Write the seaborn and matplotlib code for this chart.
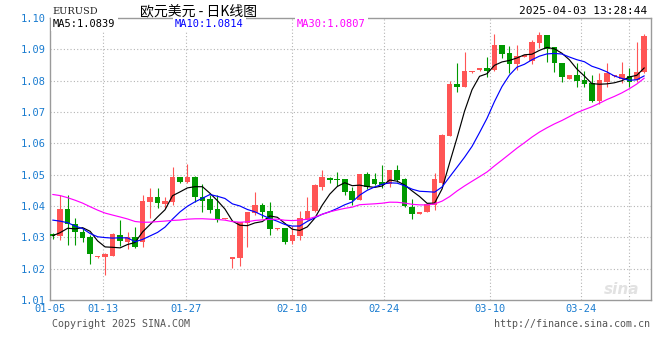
import matplotlib
matplotlib.use("Agg")
import matplotlib.pyplot as plt
import numpy as np
import pandas as pd
import seaborn as sns

# EURUSD daily candles (80 bars)
opens = [1.0311, 1.0305, 1.0391, 1.0343, 1.0317, 1.0301, 1.0236, 1.0238, 1.0241, 1.0308,
         1.0285, 1.0301, 1.0285, 1.0413, 1.0429, 1.0407, 1.0413, 1.0493, 1.0477, 1.0493,
         1.0429, 1.0422, 1.0391, 1.0358, 1.0231, 1.0234, 1.0346, 1.0378, 1.0403, 1.0384,
         1.0326, 1.0330, 1.0289, 1.0305, 1.0356, 1.0384, 1.0461, 1.0490, 1.0486, 1.0486,
         1.0448, 1.0419, 1.0502, 1.0486, 1.0477, 1.0470, 1.0515, 1.0486, 1.0397, 1.0376,
         1.0381, 1.0403, 1.0474, 1.0624, 1.0789, 1.0780, 1.0827, 1.0834, 1.0840, 1.0834,
         1.0914, 1.0888, 1.0853, 1.0876, 1.0863, 1.0920, 1.0946, 1.0907, 1.0856, 1.0805,
         1.0818, 1.0802, 1.0792, 1.0735, 1.0796, 1.0814, 1.0805, 1.0815, 1.0802, 1.0828]
highs = [1.0314, 1.0435, 1.0435, 1.0362, 1.0330, 1.0308, 1.0239, 1.0249, 1.0313, 1.0356,
         1.0317, 1.0333, 1.0435, 1.0458, 1.0458, 1.0429, 1.0525, 1.0494, 1.0534, 1.0496,
         1.0470, 1.0435, 1.0435, 1.0361, 1.0238, 1.0350, 1.0382, 1.0445, 1.0410, 1.0413,
         1.0329, 1.0331, 1.0337, 1.0384, 1.0429, 1.0469, 1.0515, 1.0493, 1.0509, 1.0487,
         1.0461, 1.0503, 1.0509, 1.0505, 1.0531, 1.0516, 1.0531, 1.0489, 1.0423, 1.0379,
         1.0408, 1.0505, 1.0630, 1.0799, 1.0856, 1.0892, 1.0830, 1.0841, 1.0876, 1.0949,
         1.0915, 1.0911, 1.0914, 1.0883, 1.0930, 1.0955, 1.0947, 1.0908, 1.0857, 1.0819,
         1.0856, 1.0831, 1.0818, 1.0824, 1.0856, 1.0817, 1.0860, 1.0840, 1.0923, 1.0949]
lows = [1.0295, 1.0292, 1.0276, 1.0276, 1.0285, 1.0215, 1.0235, 1.0180, 1.0240, 1.0273,
        1.0263, 1.0266, 1.0269, 1.0362, 1.0394, 1.0394, 1.0403, 1.0474, 1.0474, 1.0413,
        1.0381, 1.0378, 1.0349, 1.0357, 1.0202, 1.0209, 1.0269, 1.0371, 1.0362, 1.0308,
        1.0325, 1.0279, 1.0279, 1.0292, 1.0355, 1.0380, 1.0451, 1.0474, 1.0464, 1.0435,
        1.0403, 1.0418, 1.0454, 1.0467, 1.0458, 1.0461, 1.0477, 1.0397, 1.0359, 1.0375,
        1.0380, 1.0388, 1.0470, 1.0623, 1.0764, 1.0779, 1.0826, 1.0831, 1.0812, 1.0831,
        1.0872, 1.0824, 1.0834, 1.0875, 1.0853, 1.0904, 1.0860, 1.0828, 1.0796, 1.0804,
        1.0780, 1.0780, 1.0732, 1.0726, 1.0780, 1.0813, 1.0792, 1.0780, 1.0796, 1.0824]
closes = [1.0305, 1.0391, 1.0343, 1.0317, 1.0298, 1.0247, 1.0238, 1.0247, 1.0311, 1.0289,
          1.0301, 1.0269, 1.0416, 1.0429, 1.0410, 1.0416, 1.0493, 1.0477, 1.0493, 1.0429,
          1.0416, 1.0388, 1.0359, 1.0360, 1.0237, 1.0349, 1.0381, 1.0403, 1.0381, 1.0327,
          1.0328, 1.0285, 1.0308, 1.0362, 1.0384, 1.0467, 1.0493, 1.0483, 1.0484, 1.0445,
          1.0419, 1.0502, 1.0461, 1.0470, 1.0467, 1.0515, 1.0483, 1.0400, 1.0375, 1.0378,
          1.0407, 1.0486, 1.0627, 1.0789, 1.0780, 1.0831, 1.0829, 1.0840, 1.0831, 1.0914,
          1.0885, 1.0853, 1.0879, 1.0882, 1.0923, 1.0946, 1.0901, 1.0856, 1.0812, 1.0818,
          1.0799, 1.0789, 1.0735, 1.0802, 1.0824, 1.0816, 1.0821, 1.0796, 1.0828, 1.0943]
# closes before the window, estimated from where the MA lines start at the left edge
prev_close = [1.0500, 1.0545, 1.0560, 1.0575, 1.0590, 1.0565, 1.0530, 1.0500, 1.0470, 1.0495,
              1.0510, 1.0490, 1.0420, 1.0355, 1.0365, 1.0430, 1.0440, 1.0410, 1.0395, 1.0410,
              1.0425, 1.0393, 1.0422, 1.0380, 1.0405, 1.0341, 1.0273, 1.0327, 1.0279]

ma_names = ["MA5", "MA10", "MA30"]
ma_windows = [5, 10, 30]
ma_last = [1.0839, 1.0814, 1.0807]
ma_colors = ["#000000", "#0000ff", "#ff00ff"]

tick_pos = [6.7, 17.8, 32.0, 44.3, 58.4, 70.5]
tick_labels = ["01-13", "01-27", "02-10", "02-24", "03-10", "03-24"]
extra_grid = [77.0]

up_color = "#ff5555"
down_color = "#009900"
label_blue = "#1a7cd0"
grid_color = "#b4b4b4"

sns.set_theme(style="white")
plt.rcParams['font.family'] = ['DejaVu Sans Mono', 'Noto Sans CJK SC']

W, H = 660, 360
fig = plt.figure(figsize=(6.6, 3.6), dpi=100, facecolor='white')
ax = fig.add_axes([50 / W, (H - 300) / H, 601 / W, 282 / H])

df = pd.DataFrame({"o": opens, "h": highs, "l": lows, "c": closes})
df["i"] = np.arange(len(df))
full = pd.Series(prev_close + closes)
for name, n in zip(ma_names, ma_windows):
    df[name] = full.rolling(n).mean().iloc[len(prev_close):].values

xlo, xhi = -0.36, 79.9
ylo, yhi = 1.01, 1.10

# grid
for y in np.arange(1.02, 1.095, 0.01):
    ax.axhline(y, color=grid_color, lw=0.8, ls=(0, (1, 2)), zorder=0)
for x in tick_pos + extra_grid:
    ax.axvline(x, color=grid_color, lw=0.8, ls=(0, (1, 2)), zorder=0)

# candles
up = df["c"] >= df["o"]
cols = np.where(up, up_color, down_color)
ax.vlines(df["i"], df["l"], df["h"], colors=cols, lw=0.8, zorder=2)
body = (df["c"] - df["o"]).abs().clip(lower=0.00035)
ax.bar(df["i"], body, bottom=df[["o", "c"]].min(axis=1), width=0.74,
       color=cols, linewidth=0, zorder=3)

# moving averages
for name, col in zip(ma_names, ma_colors):
    sns.lineplot(data=df, x="i", y=name, color=col, lw=0.85, ax=ax, zorder=4)

ax.set_xlim(xlo, xhi)
ax.set_ylim(ylo, yhi)
ax.set_xlabel("")
ax.set_ylabel("")
yt = np.arange(1.01, 1.1001, 0.01)
ax.set_yticks(yt)
ax.set_yticklabels([f"{v:.2f}" for v in yt], color=label_blue, fontsize=7.5)
ax.set_xticks([xlo] + tick_pos)
ax.set_xticklabels(["01-05"] + tick_labels, color=label_blue, fontsize=7.5)
ax.tick_params(axis='both', length=0, pad=3)
for s in ax.spines.values():
    s.set_color("#9a9a9a")
    s.set_linewidth(1)

# MA legend inside the top of the plot
for name, val, col, px in zip(ma_names, ma_last, ma_colors, [53, 175, 297]):
    fig.text(px / W, 1 - 24 / H, f"{name}:{val:.4f}", color=col, fontsize=7.5,
             va='center', ha='left',
             bbox=dict(facecolor='white', edgecolor='none', pad=1.5))

# header
fig.text(52 / W, 1 - 11 / H, "EURUSD", family='DejaVu Serif', fontsize=7,
         va='center', color='#222222')
fig.text(140 / W, 1 - 11 / H, "欧元美元 - 日K线图", family=['Noto Sans CJK SC', 'DejaVu Sans'],
         fontsize=10, va='center', color='black')
fig.text(647 / W, 1 - 11 / H, "2025-04-03 13:28:44", fontsize=8, va='center',
         ha='right', color='black')

# footer
fig.text(52 / W, 1 - 324 / H, "Copyright 2025 SINA.COM", fontsize=7.2,
         va='center', color='#555555')
fig.text(650 / W, 1 - 324 / H, "http://finance.sina.com.cn", fontsize=7.2,
         va='center', ha='right', color='#555555')

# faint watermark
fig.text(622 / W, 1 - 289 / H, "sina", family='DejaVu Sans', fontsize=11,
         style='italic', weight='bold', color='#e2e2e2', va='center', ha='center')

fig.savefig("out.png", dpi=100, facecolor='white')
